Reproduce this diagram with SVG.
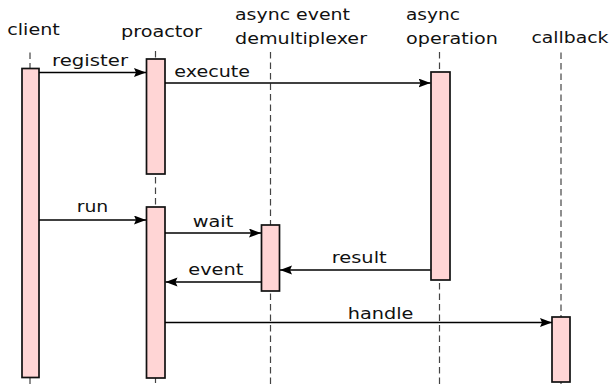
<svg xmlns="http://www.w3.org/2000/svg" width="614" height="384" viewBox="0 0 614 384">
<defs>
<style>
text{font-family:"DejaVu Sans","Liberation Sans",sans-serif;font-size:16.5px;fill:#111}
.life{stroke:#444;stroke-width:1.2;stroke-dasharray:6.5 4;fill:none}
.act{fill:#ffd5d5;stroke:#111;stroke-width:1.7}
.msg{stroke:#000;stroke-width:1.6;fill:none;marker-end:url(#ah)}
</style>
<marker id="ah" markerUnits="userSpaceOnUse" markerWidth="13" markerHeight="10" refX="12" refY="4.5" orient="auto">
<path d="M0,0 L12,4.5 L0,9 L2,4.5 z" fill="#000"/>
</marker>
</defs>
<rect width="614" height="384" fill="#fff"/>
<g id="client">
<text x="7.3" y="35" textLength="52.5" lengthAdjust="spacingAndGlyphs">client</text>
<line class="life" x1="30" y1="52.5" x2="30" y2="384"/>
<rect class="act" x="22" y="68.5" width="17" height="309"/>
</g>
<g id="proactor">
<text x="121" y="37" textLength="81" lengthAdjust="spacingAndGlyphs">proactor</text>
<line class="life" x1="155.5" y1="51" x2="155.5" y2="384"/>
<rect class="act" x="146.5" y="59" width="18.5" height="115"/>
<rect class="act" x="146.5" y="207" width="18.5" height="171"/>
</g>
<g id="demux">
<text x="235" y="20" textLength="115" lengthAdjust="spacingAndGlyphs">async event</text>
<text x="235" y="44" textLength="132" lengthAdjust="spacingAndGlyphs">demultiplexer</text>
<line class="life" x1="270.5" y1="52" x2="270.5" y2="384"/>
<rect class="act" x="261.5" y="225" width="18" height="66"/>
</g>
<g id="operation">
<text x="406" y="20" textLength="54" lengthAdjust="spacingAndGlyphs">async</text>
<text x="406" y="44" textLength="92" lengthAdjust="spacingAndGlyphs">operation</text>
<line class="life" x1="439.5" y1="52" x2="439.5" y2="384"/>
<rect class="act" x="431" y="72" width="19" height="208"/>
</g>
<g id="callback">
<text x="531.5" y="43" textLength="77" lengthAdjust="spacingAndGlyphs">callback</text>
<line class="life" x1="561" y1="52.5" x2="561" y2="384"/>
<rect class="act" x="552" y="317" width="18" height="65"/>
</g>
<g id="connectors">
<line class="msg" x1="39" y1="72.5" x2="146" y2="72.5"/>
<text x="52" y="66" textLength="76" lengthAdjust="spacingAndGlyphs">register</text>
<line class="msg" x1="165" y1="83" x2="430.5" y2="83"/>
<text x="174.3" y="77.3" textLength="75.7" lengthAdjust="spacingAndGlyphs">execute</text>
<line class="msg" x1="39" y1="220" x2="146" y2="220"/>
<text x="76.7" y="211.7" textLength="31.6" lengthAdjust="spacingAndGlyphs">run</text>
<line class="msg" x1="165" y1="233" x2="261" y2="233"/>
<text x="192.7" y="226.5" textLength="40.6" lengthAdjust="spacingAndGlyphs">wait</text>
<line class="msg" x1="430.5" y1="270" x2="280" y2="270"/>
<text x="331.7" y="262.5" textLength="55" lengthAdjust="spacingAndGlyphs">result</text>
<line class="msg" x1="261" y1="282" x2="165.5" y2="282"/>
<text x="188.3" y="274.5" textLength="55" lengthAdjust="spacingAndGlyphs">event</text>
<line class="msg" x1="165" y1="322.5" x2="552" y2="322.5"/>
<text x="347.7" y="319" textLength="65.7" lengthAdjust="spacingAndGlyphs">handle</text>
</g>
</svg>
